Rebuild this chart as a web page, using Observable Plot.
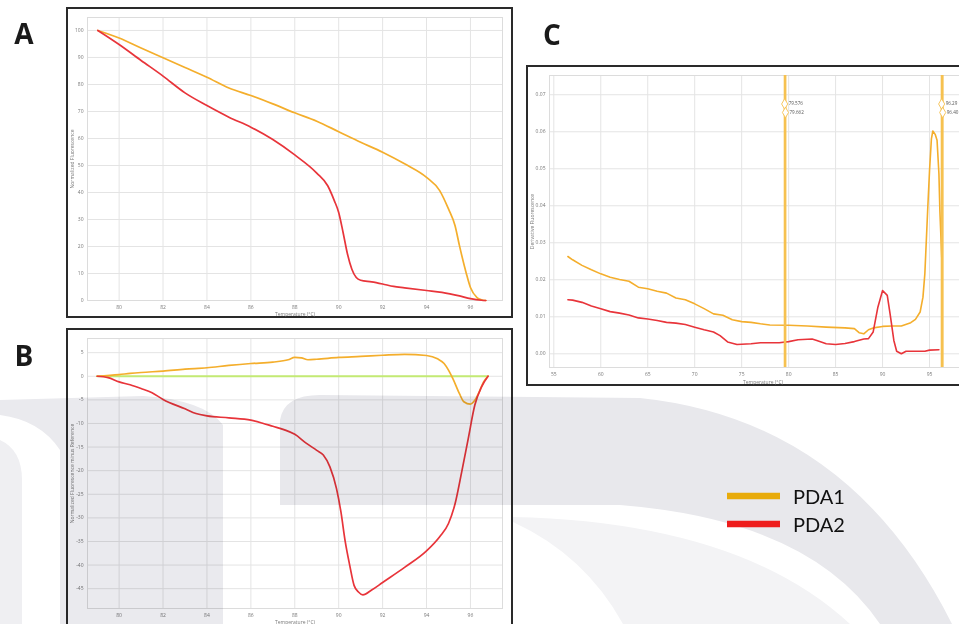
<!DOCTYPE html>
<html>
<head>
<meta charset="utf-8">
<script src="https://cdn.jsdelivr.net/npm/d3@7"></script>
<script src="https://cdn.jsdelivr.net/npm/@observablehq/plot@0.6"></script>
<style>
  html, body { margin:0; padding:0; background:#fff; overflow:hidden; }
  #page { position:relative; width:959px; height:624px; overflow:hidden; background:#fff; }
  .box { position:absolute; box-sizing:border-box; border:2px solid #2a2a2a; background:#fff; }
  .box svg { display:block; }
  #overlay { position:absolute; left:0; top:0; pointer-events:none; }
  #wm { position:absolute; left:0; top:0; pointer-events:none; mix-blend-mode:multiply; }
</style>
</head>
<body>
<div id="page">
  <div class="box" id="boxA" style="left:66px; top:7px; width:447px; height:311px;"></div>
  <div class="box" id="boxB" style="left:66px; top:328px; width:447px; height:298px;"></div>
  <div class="box" id="boxC" style="left:526px; top:65px; width:462px; height:321px;"></div>
</div>
<script>
// ---------- Panel A: normalized fluorescence ----------
const tempA_PDA1 = [79.03,80,81,82,83,84,85,86,87,88,89,90,91,92,93,94,94.6,95,95.3,95.5,95.8,96,96.3,96.5,96.7];
const valA_PDA1  = [100,97.2,93.5,89.9,86.3,82.7,78.7,75.9,72.8,69.5,66.4,62.5,58.6,54.9,50.6,45.6,40.7,33.9,27.7,20.3,10.4,4.8,1.1,0.3,0];
const tempA_PDA2 = [79.03,80,81,82,83,84,85,86,87,88,89,89.5,89.8,90,90.2,90.4,90.6,90.8,91,91.5,92,92.5,93,94,94.7,95.5,96,96.5,96.7];
const valA_PDA2  = [100,94.8,88.9,83.1,76.9,72.2,67.9,64.2,59.6,53.9,47.2,42.5,37.0,32.6,25.2,17.2,11.6,8.5,7.5,6.9,6.1,5.2,4.7,3.7,3.0,1.7,0.7,0.1,0];
const ticksA_x = [80,82,84,86,88,90,92,94,96];
const ticksA_y = [0,10,20,30,40,50,60,70,80,90,100];

// ---------- Panel B: normalized fluorescence minus reference ----------
const tempB_PDA1 = [79,80,80.5,81,82,83,84,85,86,87,87.7,88,88.3,88.6,89,90,91,92,93,94,94.5,94.8,95,95.2,95.5,95.7,96,96.2,96.4,96.6,96.8];
const valB_PDA1  = [0,0.35,0.6,0.8,1.1,1.5,1.8,2.3,2.7,3.0,3.5,4.0,3.9,3.5,3.6,4.0,4.2,4.45,4.65,4.4,3.7,2.7,1.3,-0.5,-3.7,-5.4,-5.9,-5.1,-3.3,-1.2,0];
const tempB_PDA2 = [79,79.5,80,80.5,81,81.5,82,83,83.5,84,85,86,86.5,87,87.5,88,88.5,89,89.3,89.6,89.9,90.1,90.3,90.5,90.7,90.9,91.1,91.5,92,93,94,94.6,95,95.3,95.6,95.9,96.2,96.5,96.8];
const valB_PDA2  = [0,-0.3,-1.2,-1.8,-2.6,-3.5,-4.9,-6.9,-7.9,-8.4,-8.8,-9.3,-9.9,-10.6,-11.3,-12.3,-14.1,-15.7,-16.7,-19.2,-23.8,-28.7,-35.1,-40.0,-44.3,-45.7,-46.3,-45.3,-43.7,-40.5,-37.0,-34.0,-31.2,-27.0,-20.3,-13.2,-6.1,-2.3,0];
const tempB_ref = [79,96.8];
const valB_ref  = [0,0];
const ticksB_y = [5,0,-5,-10,-15,-20,-25,-30,-35,-40,-45];

// ---------- Panel C: derivative fluorescence ----------
const tempC_PDA1 = [56.5,57,58,59,60,61,62,63,64,65,66,67,68,69,70,71,72,73,74,75,76,77,78,80,82,84,86,87,87.5,88,88.5,89,90,91,92,93,93.5,94,94.3,94.5,94.8,95,95.2,95.35,95.6,95.8,96,96.1,96.3];
const valC_PDA1  = [0.0263,0.0254,0.0239,0.0227,0.0216,0.0207,0.0201,0.0196,0.018,0.0176,0.0169,0.0164,0.0151,0.0146,0.0135,0.0122,0.0108,0.0104,0.0092,0.0087,0.0085,0.0081,0.0078,0.0077,0.0075,0.0072,0.007,0.0068,0.0057,0.0054,0.0065,0.007,0.0074,0.0075,0.0075,0.0084,0.0093,0.0113,0.0153,0.0216,0.0387,0.0495,0.0581,0.0602,0.0593,0.0577,0.0486,0.0387,0.026];
const tempC_PDA2 = [56.5,57,58,59,60,61,62,63,64,65,66,67,68,69,70,71,72,72.7,73.5,74.5,76,77,79,80,81,82.5,83,84,85,86,87,88,88.5,89,89.5,90,90.5,90.8,91.2,91.5,92,92.5,93.5,94.5,95,96];
const valC_PDA2  = [0.0146,0.0145,0.0139,0.0129,0.0122,0.0114,0.011,0.0105,0.0097,0.0094,0.009,0.0085,0.0083,0.0079,0.0072,0.0065,0.0059,0.0049,0.0032,0.0025,0.0027,0.003,0.003,0.0033,0.0038,0.004,0.0036,0.0027,0.0025,0.0028,0.0033,0.004,0.0041,0.0059,0.0126,0.0171,0.0158,0.0108,0.0036,0.0007,0.0,0.0007,0.0007,0.0007,0.001,0.0011];
const markerTemps  = [79.576,79.662,96.29,96.40];
const markerLabels = ["79.576","79.662","96.29","96.40"];
const markerLevels = [0.0675,0.0652,0.0675,0.0652];
const ticksC_x = [55,60,65,70,75,80,85,90,95];
const ticksC_y = [0,0.01,0.02,0.03,0.04,0.05,0.06,0.07];

const seriesNames = ["PDA1","PDA2"];
const colPDA1 = "#f4ae2c";
const colPDA2 = "#e8343a";
const colRef = "#c3ea74";
const colMarker = "#f6c150";

const zip = (t, v, s) => t.map((d, i) => ({t: d, v: v[i], s}));
const gridStroke = "#e4e4e4";
const baseStyle = {fontSize: "5px", fontFamily: "'Open Sans', sans-serif", color: "#7a7a7a", background: "#fff", overflow: "visible"};

// Panel A
const plotA = Plot.plot({
  width: 443, height: 307,
  marginLeft: 19, marginRight: 9, marginTop: 8, marginBottom: 16,
  style: baseStyle,
  x: {domain: [78.56, 97.46]},
  y: {domain: [0, 104.8]},
  marks: [
    Plot.gridX(ticksA_x, {stroke: gridStroke, strokeOpacity: 1}),
    Plot.gridY(ticksA_y, {stroke: gridStroke, strokeOpacity: 1}),
    Plot.frame({stroke: "#dcdcdc"}),
    Plot.axisX({ticks: ticksA_x, tickSize: 0, tickPadding: 5, tickFormat: d => String(d),
      label: "Temperature (°C)", labelAnchor: "center", labelArrow: "none", labelOffset: 15}),
    Plot.axisY({ticks: ticksA_y, tickSize: 0, tickPadding: 4, tickFormat: d => String(d),
      label: "Normalized Fluorescence", labelAnchor: "center", labelArrow: "none", labelOffset: 17}),
    Plot.line(zip(tempA_PDA1, valA_PDA1, seriesNames[0]), {x: "t", y: "v", stroke: colPDA1, strokeWidth: 1.7, curve: "monotone-x"}),
    Plot.line(zip(tempA_PDA2, valA_PDA2, seriesNames[1]), {x: "t", y: "v", stroke: colPDA2, strokeWidth: 1.7, curve: "monotone-x"})
  ]
});
document.getElementById("boxA").appendChild(plotA);

// Panel B
const plotB = Plot.plot({
  width: 443, height: 294,
  marginLeft: 19, marginRight: 9, marginTop: 8, marginBottom: 16,
  style: baseStyle,
  x: {domain: [78.56, 97.46]},
  y: {domain: [-49.2, 8.0]},
  marks: [
    Plot.gridX(ticksA_x, {stroke: gridStroke, strokeOpacity: 1}),
    Plot.gridY(ticksB_y, {stroke: gridStroke, strokeOpacity: 1}),
    Plot.frame({stroke: "#dcdcdc"}),
    Plot.axisX({ticks: ticksA_x, tickSize: 0, tickPadding: 5, tickFormat: d => String(d),
      label: "Temperature (°C)", labelAnchor: "center", labelArrow: "none", labelOffset: 15}),
    Plot.axisY({ticks: ticksB_y, tickSize: 0, tickPadding: 4, tickFormat: d => String(d),
      label: "Normalized Fluorescence minus Reference", labelAnchor: "center", labelArrow: "none", labelOffset: 17}),
    Plot.line(zip(tempB_ref, valB_ref, "ref"), {x: "t", y: "v", stroke: colRef, strokeWidth: 2.2}),
    Plot.line(zip(tempB_PDA1, valB_PDA1, seriesNames[0]), {x: "t", y: "v", stroke: colPDA1, strokeWidth: 1.7, curve: "monotone-x"}),
    Plot.line(zip(tempB_PDA2, valB_PDA2, seriesNames[1]), {x: "t", y: "v", stroke: colPDA2, strokeWidth: 1.7, curve: "monotone-x"})
  ]
});
document.getElementById("boxB").appendChild(plotB);

// Panel C
const markers = markerTemps.map((t, i) => ({t, v: markerLevels[i], label: markerLabels[i]}));
const plotC = Plot.plot({
  width: 458, height: 317,
  marginLeft: 21, marginRight: 10, marginTop: 8, marginBottom: 17,
  style: baseStyle,
  x: {domain: [54.54, 100]},
  y: {domain: [-0.0037, 0.0752]},
  marks: [
    Plot.gridX(ticksC_x, {stroke: gridStroke, strokeOpacity: 1}),
    Plot.gridY(ticksC_y, {stroke: gridStroke, strokeOpacity: 1}),
    Plot.frame({stroke: "#dcdcdc"}),
    Plot.axisX({ticks: ticksC_x, tickSize: 0, tickPadding: 5, tickFormat: d => String(d),
      label: "Temperature (°C)", labelAnchor: "center", labelArrow: "none", labelOffset: 16}),
    Plot.axisY({ticks: ticksC_y, tickSize: 0, tickPadding: 4, tickFormat: d3.format(".2f"),
      label: "Derivative Fluorescence", labelAnchor: "center", labelArrow: "none", labelOffset: 19}),
    Plot.line(zip(tempC_PDA1, valC_PDA1, seriesNames[0]), {x: "t", y: "v", stroke: colPDA1, strokeWidth: 1.6}),
    Plot.line(zip(tempC_PDA2, valC_PDA2, seriesNames[1]), {x: "t", y: "v", stroke: colPDA2, strokeWidth: 1.6}),
    Plot.ruleX(markerTemps, {stroke: colMarker, strokeWidth: 1.9}),
    Plot.dot(markers, {x: "t", y: "v", symbol: "diamond", r: 3.2, stroke: colMarker, fill: "#fff", strokeWidth: 0.9}),
    Plot.text(markers, {x: "t", y: "v", text: "label", dx: 4, textAnchor: "start", fill: "#555", fontSize: 4.6})
  ]
});
document.getElementById("boxC").appendChild(plotC);

// ---------- Overlay: watermark, panel letters, legend ----------
const page = document.getElementById("page");

const wm = d3.select(page).append("svg").attr("id", "wm").attr("width", 959).attr("height", 624);
wm.append("path").attr("fill", "#e8e8ec")
  .attr("d", "M 280 505 L 280 420 Q 284 395 320 395 L 640 398 Q 850 420 952 624 L 880 624 Q 810 520 620 505 Z");
wm.append("path").attr("fill", "#f3f3f5")
  .attr("d", "M 513 517 Q 740 522 850 624 L 623 624 Q 585 555 513 522 Z");
wm.append("path").attr("fill", "#eaeaee")
  .attr("d", "M 0 400 L 143 396 Q 205 400 223 425 L 223 624 L 60 624 L 60 450 Q 40 420 0 415 Z");
wm.append("path").attr("fill", "#efeff2")
  .attr("d", "M 0 440 Q 22 450 22 480 L 22 624 L 0 624 Z");

const ov = d3.select(page).append("svg").attr("id", "overlay").attr("width", 959).attr("height", 624);
const letters = [{t: "A", x: 24, y: 44}, {t: "B", x: 24, y: 366}, {t: "C", x: 552, y: 45}];
ov.selectAll("text.letter").data(letters).join("text")
  .attr("class", "letter")
  .attr("x", d => d.x).attr("y", d => d.y)
  .attr("text-anchor", "middle")
  .attr("font-family", "'Open Sans', sans-serif")
  .attr("font-weight", 700)
  .attr("font-size", 28)
  .attr("fill", "#1a1a1a")
  .text(d => d.t);

const legend = [{name: seriesNames[0], color: "#e8ab0a", y: 496}, {name: seriesNames[1], color: "#ee1c1c", y: 524}];
const lg = ov.selectAll("g.lg").data(legend).join("g").attr("class", "lg");
lg.append("line").attr("x1", 727).attr("x2", 780).attr("y1", d => d.y).attr("y2", d => d.y)
  .attr("stroke", d => d.color).attr("stroke-width", 6.5);
lg.append("text").attr("x", 793).attr("y", d => d.y + 8)
  .attr("font-family", "Lato, sans-serif").attr("font-size", 20).attr("fill", "#111")
  .text(d => d.name);
</script>
</body>
</html>
